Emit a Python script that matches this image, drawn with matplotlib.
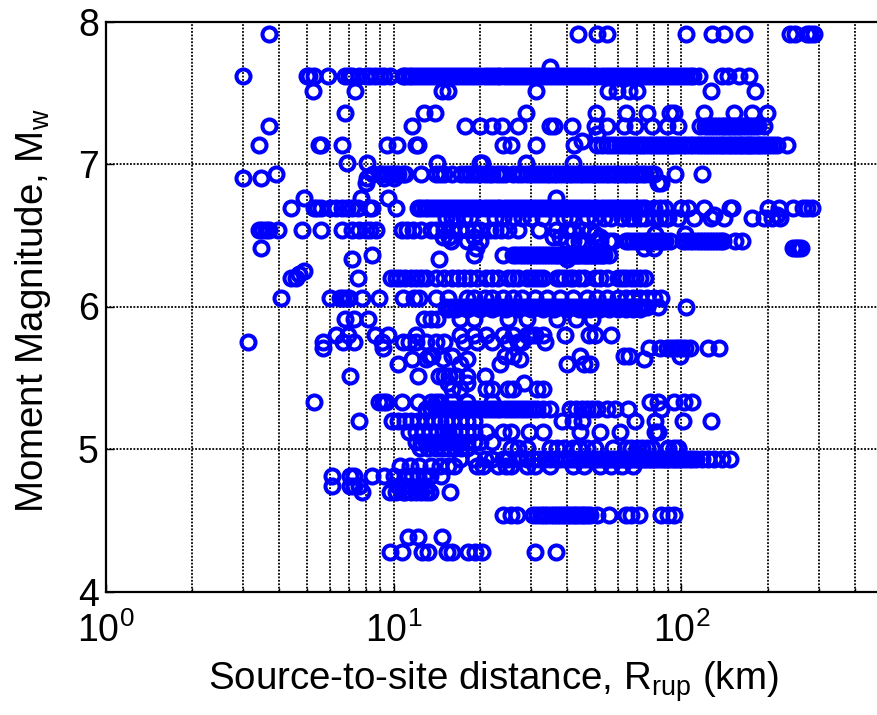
import matplotlib
matplotlib.use("Agg")
import matplotlib.pyplot as plt

# Rupture distance (km), grouped by earthquake magnitude
rows = {
    7.91: [3.7, 43.8, 51, 55, 104, 128, 141, 165, 238, 248, 272, 280, 288],
    7.68: [35],
    7.62: [3.0, 5.0, 5.1, 5.3, 5.9, 6.8, 7.0, 7.2, 7.6, 8.0, 8.3, 8.6, 9.0, 9.3, 9.7, 10.8, 11.0, 11.3, 11.6,
           12.0, 12.4, 12.8, 13.2, 13.6, 14.0, 14.5, 15.0, 15.5, 16.0, 16.5, 17.0, 17.6, 18.2, 18.8, 19.4, 20.0,
           20.7, 21.4, 22.1, 22.8, 23.5, 24.3, 25.1, 25.9, 26.8, 27.7, 28.6, 29.5, 30.5, 31.5, 32.5, 33.6, 34.7,
           35.8, 37.0, 38.2, 39.5, 40.8, 42.1, 43.5, 44.9, 46.4, 47.9, 49.5, 51.1, 52.8, 54.5, 56.3, 58.1, 60.0,
           62.0, 64.0, 66.1, 68.3, 70.5, 72.8, 75.2, 77.7, 80.2, 82.8, 85.5, 88.3, 91.2, 94.2, 97.3, 100.5,
           103.8, 107, 110, 115, 138, 145, 159, 172],
    7.51: [5.26, 7.35, 14.7, 15.5, 31.3, 55.6, 59.7, 66, 70, 127, 180],
    7.36: [6.8, 12.8, 13.9, 28.8, 50.5, 64, 76, 91, 94, 120, 152, 176, 199],
    7.27: [3.7, 11.6, 17.7, 20, 22, 23.8, 27, 35, 36, 41.7, 50, 55, 63, 69, 79, 89, 97, 116, 121, 124, 127, 130,
           133, 136, 139, 142, 145, 148, 151, 154, 157, 160, 164, 168, 172, 176, 180, 185, 193],
    7.21: [51],
    7.13: [3.4, 5.5, 5.6, 6.6, 9.5, 10.3, 12.0, 12.2, 24, 25.5, 31.3, 42.5, 51, 53, 55, 57, 59, 61, 63, 65, 67, 69,
           71, 73, 75, 77, 79, 81, 83, 85, 87, 89, 91, 93, 95, 98, 101, 104, 107, 110, 113, 116, 119, 122, 125, 128,
           131, 134, 137, 140, 143, 146, 149, 152, 155, 158, 161, 164, 167, 170, 173, 176, 180, 184, 188, 192,
           197, 202, 208, 215, 232],
    7.16: [45],
    7.01: [6.9, 8.1, 14.2, 20.3, 20, 28.8, 42],
    6.93: [3.9, 8.5, 9.0, 9.2, 9.5, 9.8, 10.1, 10.4, 10.8, 11.0, 12.5, 14, 14.5, 15, 16, 17.2, 17.8, 18.4, 19, 19.6,
           20, 20.7, 21.4, 22, 22.8, 23.6, 24.4, 26, 27, 28, 29, 30, 31, 32, 33, 34, 35, 36, 37, 38.2, 39.4, 40.6,
           41.8, 43, 44.3, 45.6, 47, 48.4, 49.8, 51.3, 52.8, 54.5, 56, 57.7, 59.4, 61.2, 63, 64.9, 66.8, 68.8, 70.8,
           72.9, 75, 77.5, 80, 95, 118],
    6.90: [3.0, 3.45, 8.1, 9.3, 10.0],
    6.87: [8.0, 85, 83],
    6.76: [4.9, 7.7, 9.6, 36.6],
    6.69: [4.4, 5.3, 5.4, 5.6, 6.0, 6.3, 6.6, 6.9, 7.2, 7.5, 8.2, 8.4, 10.2, 12.2, 12.5, 12.9, 13.2, 13.6, 14, 14.5,
           15, 15.5, 16, 16.5, 17, 17.6, 18.2, 18.8, 19.4, 20, 20.7, 21.4, 22.1, 22.8, 23.5, 24.3, 25.1, 25.9, 26.8,
           27.7, 28.6, 29.5, 30.5, 31.5, 32.5, 33.6, 34.7, 35.8, 37, 38.2, 39.5, 40.8, 42.1, 43.5, 44.9, 46.4, 47.9,
           49.5, 51.1, 52.8, 54.5, 56.3, 58.1, 60, 62, 64, 66.1, 68.3, 70.5, 72.8, 75, 80, 84, 88, 100, 105, 120,
           147, 150, 200, 218, 245, 265, 272, 285],
    6.62: [15.2, 15.9, 16.5, 17.5, 18.5, 39, 41, 47, 57, 62, 72, 90, 97, 111, 127, 141, 176, 193, 207, 220,
           22.5, 24, 26, 28, 30, 33, 50, 54, 66, 68, 75, 80, 84, 88],
    6.64: [130, 214],
    6.54: [3.4, 3.5, 3.6, 3.7, 3.97, 4.8, 5.6, 6.6, 7.2, 7.6, 8.0, 8.3, 8.7, 10.7, 11.1, 11.7, 12.5, 13.5, 14, 15, 16,
           17, 18, 19, 20, 21.6, 22.5, 23.7, 25, 27, 32, 36.7, 40, 42, 45, 48],
    6.49: [14.8, 15.6, 35.7, 19, 38, 52],
    6.46: [15.8, 18, 20, 40, 42, 44, 46, 50, 52, 56, 58, 64, 66, 68, 70, 72, 74, 76, 78, 80, 82, 84, 86, 88, 91, 101,
           104, 107, 110, 113, 116, 119, 122, 125, 128, 131, 134, 137, 140, 153, 162],
    6.51: [81, 103, 50],
    6.41: [3.45, 19.4, 74, 80, 245, 250, 255, 260],
    6.36: [8.4, 19, 24, 26, 26.7, 27.4, 28.1, 28.8, 29.5, 30.2, 31, 31.8, 32.6, 33.4, 34.2, 35, 35.8, 36.6, 37.4,
           38.2, 39, 39.8, 40.6, 41.4, 42.2, 43, 43.8, 44.6, 45.4, 46.2, 47, 47.8, 48.6, 49.4, 50.2, 51, 52, 53, 54,
           56],
    6.33: [7.2, 14.4, 40],
    6.25: [4.9],
    6.20: [4.4, 4.6, 7.5, 9.8, 10.2, 10.5, 11, 11.5, 12, 12.5, 13, 14, 15, 16, 16.8, 17.6, 18.4, 19.5, 21, 22, 23,
           25, 26, 27, 29, 30, 31, 32, 33, 37, 38, 39, 41, 42, 44, 46, 50, 52, 55, 60, 62, 64, 67, 69, 72, 75],
    6.23: [4.7],
    6.06: [4.05, 6.0, 6.5, 6.7, 6.9, 7.0, 7.8, 8.9, 10.8, 11.8, 12.3, 14, 15.5, 18, 19, 20.8, 22, 24, 26, 28, 31, 34,
           38, 42, 47, 51, 55, 60, 64, 68, 72, 76, 80, 85],
    6.00: [15.2, 15.8, 16.4, 17, 17.6, 18.2, 18.8, 19.4, 20, 20.7, 21.4, 22.1, 22.8, 23.5, 24.3, 25.1, 25.9, 26.8,
           27.7, 28.6, 29.5, 30.5, 31.5, 32.5, 33.6, 34.7, 35.8, 37, 38.2, 39.5, 40.8, 42.1, 43.5, 44.9, 46.4, 47.9,
           49.5, 51.1, 52.8, 54.5, 56.3, 58.1, 60, 62, 64, 66.1, 68.3, 70.5, 73, 76, 83, 104],
    5.98: [15.5, 16.5, 18, 20, 22, 24.5, 27, 30, 33, 36, 40, 44, 48, 52, 56, 60, 64, 68, 72],
    5.91: [6.8, 7.3, 8.15, 12.8, 13.5, 14.2, 17, 19, 25, 29, 37, 43, 49],
    5.80: [6.3, 6.95, 8.6, 9.6, 12, 17, 19, 21, 24, 26, 31, 33, 39.4, 47.7, 50, 57, 29, 30],
    5.75: [3.12, 5.7, 6.7, 7.3, 9.1, 10.8, 11.3, 12, 13, 14, 15, 17.5, 19.5, 22, 25, 27, 33.5, 28],
    5.71: [5.7, 9.2, 77, 84, 92, 95, 97, 100, 103, 107, 124, 135, 89],
    5.65: [13.3, 13.6, 16, 24.4, 26, 44.5, 63, 66, 99],
    5.63: [11.6, 13, 14.8, 18, 27.5, 74],
    5.60: [10.4, 17, 23.5, 40, 46, 48],
    5.51: [7.05, 12.2, 14.4, 15, 15.6, 16.5, 18, 20.8],
    5.46: [15.5, 18, 28.3],
    5.42: [16, 17, 22, 25, 26, 31.5, 33, 21],
    5.33: [5.3, 8.9, 9.2, 9.4, 10.7, 12.2, 13.5, 14, 14.5, 78, 83, 94, 102, 109, 16, 18, 22],
    5.28: [13, 13.5, 14, 14.5, 15, 15.5, 16, 16.5, 17, 17.6, 18.2, 18.8, 19.5, 20, 20.7, 21.4, 22.1, 22.8, 23.5,
           24.3, 25.1, 25.9, 26.8, 27.7, 28.6, 29.5, 30.5, 31.5, 33, 35, 41, 43, 45, 47, 49, 51, 55, 59, 65, 85],
    5.20: [7.6, 9.9, 10.4, 11, 11.5, 12.2, 13, 13.8, 14.5, 15.2, 16, 17, 18, 19, 38.6, 42, 45, 69, 81, 101, 127],
    5.12: [11.3, 12, 12.7, 13.4, 14.1, 14.8, 15.5, 16.2, 17, 18, 19, 21, 24, 25.5, 29.5, 33, 44.5, 52, 61, 81, 83],
    5.05: [12, 12.5, 13, 13.5, 14, 14.5, 15, 15.5, 16, 16.5, 17, 18, 19, 20, 22],
    5.01: [12.4, 13.2, 14, 14.8, 15.6, 16.4, 17.2, 18, 25.5, 27, 29, 35, 37, 39, 42, 44, 47, 50, 58, 64, 67, 70, 73,
           76, 79, 90, 94, 97],
    4.93: [17, 19, 20.8, 22, 24, 25, 27, 29, 30.5, 32, 33.5, 35, 36.5, 38, 39.5, 41, 42.5, 44, 45.5, 47, 48.5, 50,
           51.5, 53, 54.5, 56, 57.5, 59, 60.5, 62, 63.5, 65, 66.5, 68, 69.5, 71, 72.5, 74, 75.5, 77, 78.5, 80, 82, 84,
           86, 88, 90, 92, 94, 96, 98, 100, 103, 106, 109, 112, 118, 124, 130, 138, 147],
    4.88: [10.5, 11.4, 12.3, 13.5, 14.5, 15.5, 16.2, 19.5, 20.5, 23, 24.5, 25.5, 29, 31, 35, 42, 46, 52, 57, 62, 68],
    4.81: [6.1, 7.05, 7.3, 8.4, 9.3, 10, 11, 11.6, 12.2, 12.8, 13.4, 14.6],
    4.74: [6.1, 7.05, 7.3, 7.6, 10.4, 10.9, 11.5, 12.4, 13],
    4.70: [7.8, 9.7, 10.2, 10.8, 11, 11.5, 12, 12.5, 13, 13.4, 15.7],
    4.54: [24, 25.6, 26.8, 30.6, 31.5, 32.4, 33.3, 34.2, 35.1, 36, 36.9, 37.8, 38.7, 39.6, 40.5, 41.4, 42.3, 43.2,
           44.1, 45, 46, 47, 48, 51, 56, 64, 67, 71, 85, 90, 94],
    4.38: [11.2, 12.2, 14.7],
    4.28: [9.7, 10.7, 12.6, 13.2, 15.3, 16, 18.2, 19.2, 20.3, 31, 36.7],
}

rrup = [d for m, ds in rows.items() for d in ds]
mw = [m for m, ds in rows.items() for d in ds]

y_ticks = [4, 5, 6, 7, 8]

plt.rcParams["font.family"] = ["Liberation Sans", "DejaVu Sans"]
plt.rcParams["mathtext.fontset"] = "custom"
plt.rcParams["mathtext.rm"] = "Liberation Sans"
plt.rcParams["mathtext.it"] = "Liberation Sans"
plt.rcParams["mathtext.default"] = "regular"

W, H = 877, 715
fig = plt.figure(figsize=(W / 100, H / 100), dpi=100)
ax = fig.add_axes([105.7 / W, 1 - 591.5 / H, (W - 105.7) / W, (591.5 - 21.5) / H])
ax.set_xscale("log")
ax.set_xlim(1, 478)
ax.set_ylim(4, 8)
ax.set_yticks(y_ticks)

ax.plot(rrup, mw, linestyle="none", marker="o", markerfacecolor="none",
        markeredgecolor="#0000ff", markeredgewidth=2.9, markersize=10.1, zorder=3)

dots = (0, (1, 0.9))
ax.grid(True, which="major", color="black", linestyle=dots, linewidth=1.3)
ax.grid(True, which="minor", axis="x", color="black", linestyle=dots, linewidth=1.3)
ax.set_axisbelow(True)

ax.spines["right"].set_visible(False)
for s in ("left", "bottom", "top"):
    ax.spines[s].set_linewidth(1.6)
ax.tick_params(axis="both", which="major", direction="in", length=6, width=1, labelsize=27)
ax.tick_params(axis="x", which="minor", direction="in", length=3, width=1, labelbottom=False)
ax.tick_params(axis="x", which="major", pad=15)
ax.tick_params(axis="y", pad=5)

ax.set_xlabel(r"Source-to-site distance, R$_{rup}$ (km)", fontsize=27.7, va="baseline")
ax.xaxis.set_label_coords(493 / W, 1 - 690 / H, transform=fig.transFigure)
ax.set_ylabel(r"Moment Magnitude, M$_{w}$", fontsize=27.7, va="baseline", ha="center", rotation_mode="anchor")
ax.yaxis.set_label_coords(43 / W, 1 - 311 / H, transform=fig.transFigure)

fig.savefig("out.png", dpi=100)
